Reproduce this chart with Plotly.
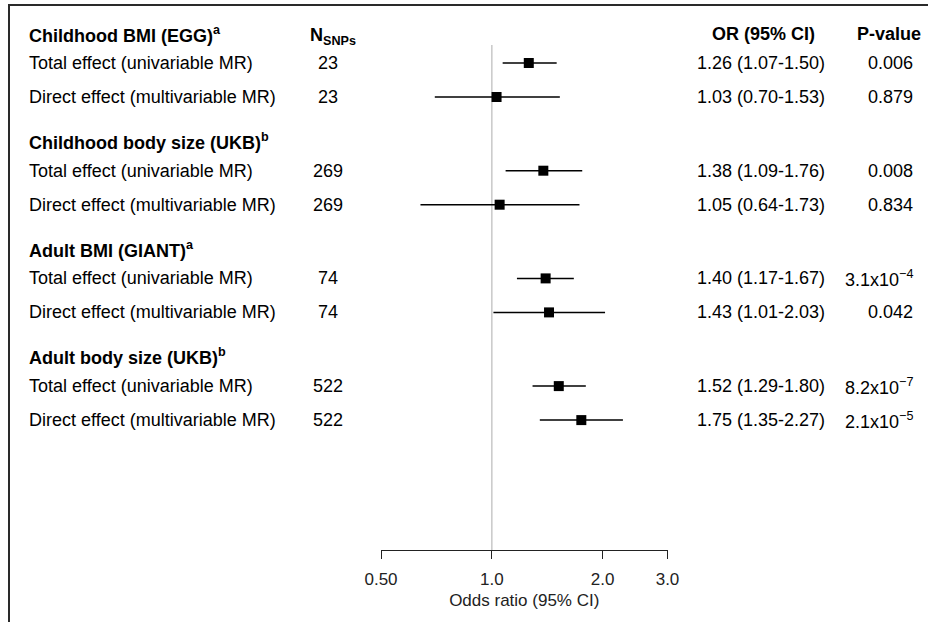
import math
import plotly.graph_objects as go

# ---------------- data ----------------
groups = ["Childhood BMI (EGG)", "Childhood body size (UKB)", "Adult BMI (GIANT)", "Adult body size (UKB)"]
group_sup = ["a", "b", "a", "b"]
effects = ["Total effect (univariable MR)", "Direct effect (multivariable MR)"]
n_snps = [23, 23, 269, 269, 74, 74, 522, 522]
or_est = [1.26, 1.03, 1.38, 1.05, 1.40, 1.43, 1.52, 1.75]
ci_lo = [1.07, 0.70, 1.09, 0.64, 1.17, 1.01, 1.29, 1.35]
ci_hi = [1.50, 1.53, 1.76, 1.73, 1.67, 2.03, 1.80, 2.27]
p_text = ["0.006", "0.879", "0.008", "0.834", "3.1x10<sup>\u22124</sup>", "0.042",
          "8.2x10<sup>\u22127</sup>", "2.1x10<sup>\u22125</sup>"]
tick_vals = [0.5, 1.0, 2.0, 3.0]
tick_text = ["0.50", "1.0", "2.0", "3.0"]

# ---------------- layout constants (pixels) ----------------
W, H = 928, 622
FONT = "Liberation Sans, Arial, sans-serif"
FS = 18
header_y = [34, 141, 249, 356]
row_y = []
for g in range(4):
    base = 63 + 107.7 * g
    row_y += [base, base + 34]
axis_y = 550
x_lab = 27
x_n = 328
x_or = 761
x_p = 915


def px(x):
    return x / W


fig = go.Figure()

# CI lines
lx, ly = [], []
for lo, hi, y in zip(ci_lo, ci_hi, row_y):
    lx += [lo, hi, None]
    ly += [y, y, None]
fig.add_trace(go.Scatter(x=lx, y=ly, mode="lines", line=dict(color="black", width=1.5),
                         hoverinfo="skip", showlegend=False, cliponaxis=False))
# point estimates
fig.add_trace(go.Scatter(x=or_est, y=row_y, mode="markers",
                         marker=dict(symbol="square", size=10, color="black"),
                         showlegend=False, cliponaxis=False))

ann = []
def add(text, x, y, anchor="left", bold=False):
    if bold:
        text = "<b>" + text + "</b>"
    ann.append(dict(text=text, x=px(x), y=y, xref="paper", yref="y", xanchor=anchor,
                    yanchor="middle", showarrow=False,
                    font=dict(family=FONT, size=FS, color="black")))

# column headers
add("N<sub>SNPs</sub>", 333, header_y[0] + 2, "center", bold=True)
add("OR (95% CI)", 763, header_y[0], "center", bold=True)
add("P-value", 889, header_y[0], "center", bold=True)

for g, (name, sup) in enumerate(zip(groups, group_sup)):
    add(name + "<sup>" + sup + "</sup>", x_lab, header_y[g], "left", bold=True)

for i in range(8):
    y = row_y[i]
    add(effects[i % 2], x_lab, y, "left")
    add(str(n_snps[i]), x_n, y, "center")
    add(f"{or_est[i]:.2f} ({ci_lo[i]:.2f}-{ci_hi[i]:.2f})", x_or, y, "center")
    add(p_text[i], x_p, y, "right")

shapes = [
    dict(type="line", xref="x", yref="y", x0=1, x1=1, y0=45, y1=axis_y,
         line=dict(color="#c8c8c8", width=1.5), layer="below"),
    dict(type="path", xref="paper", yref="paper",
         path=f"M {px(9)},0 L {px(9)},{1 - 5 / H} L 1,{1 - 5 / H}",
         line=dict(color="#2a2a2a", width=2)),
]

fig.update_layout(
    template="none",
    width=W, height=H, margin=dict(l=0, r=0, t=0, b=0, autoexpand=False),
    paper_bgcolor="white", plot_bgcolor="white",
    annotations=ann, shapes=shapes,
    font=dict(family=FONT, size=FS, color="black"),
    xaxis=dict(type="log", range=[math.log10(0.5), math.log10(3.0)],
               domain=[px(381), px(667.5)], anchor="free", position=(H - axis_y) / H,
               automargin=False,
               showgrid=False, zeroline=False, showline=True, linecolor="#222", linewidth=1.3,
               ticks="outside", ticklen=8, tickwidth=1.3, tickcolor="#222",
               tickvals=tick_vals, ticktext=tick_text, ticklabelstandoff=5,
               tickfont=dict(family=FONT, size=17, color="#222"),
               title=dict(text="Odds ratio (95% CI)", standoff=6,
                          font=dict(family=FONT, size=17, color="#222"))),
    yaxis=dict(range=[H, 0], domain=[0, 1], visible=False, fixedrange=True, automargin=False),
)

fig.write_html(
    "out.html",
    config={"displayModeBar": False},
    post_script="document.body.style.margin='0';document.body.style.overflow='hidden';",
)
